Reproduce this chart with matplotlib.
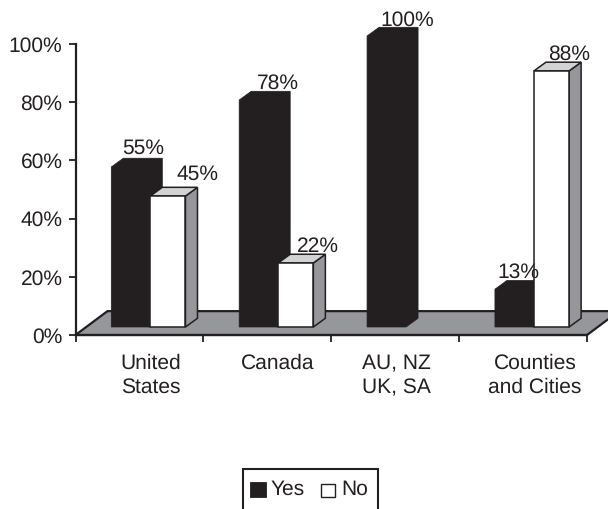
import matplotlib
matplotlib.use("Agg")
import matplotlib.pyplot as plt
from matplotlib.patches import Polygon, Rectangle

plt.rcParams["font.family"] = ["Liberation Sans", "DejaVu Sans"]
plt.rcParams["text.hinting"] = "none"
plt.rcParams["text.hinting_factor"] = 1

categories = ["United\nStates", "Canada", "AU, NZ\nUK, SA", "Counties\nand Cities"]
yes_values = [55, 78, 100, 13]
no_values = [45, 22, None, 88]
yes_labels = ["55%", "78%", "100%", "13%"]
no_labels = ["45%", "22%", None, "88%"]
y_ticks = [0, 20, 40, 60, 80, 100]

# Label anchors relative to each group's left tick and the box top
yes_label_dx = [0.53, 0.586, 0.594, 0.461]
yes_label_dy = [-0.15, -0.78, -1.0, -0.43]
no_label_dx = [0.953, 0.898, 0.0, 0.859]
no_label_dy = [0.95, -0.52, 0.0, -0.58]
category_dx = [0.59, 0.578, 0.508, 0.594]

INK = "#231f20"
GRAY = "#96979b"
LIGHT = "#d1d3d4"
FONT = 15

W, H = 608, 509
fig = plt.figure(figsize=(W / 100, H / 100), dpi=100, facecolor="white")
ax = fig.add_axes([75.5 / W, 1 - 335 / H, 511.5 / W, 291 / H])
ax.set_xlim(0, 4)
ax.set_ylim(0, 100)
ax.patch.set_visible(False)

# Oblique projection offsets, in data units
FLOOR_DX, FLOOR_DY = 0.25, 8.2
BAR_DX, BAR_DY = 0.094, 3.0
BASE = 2.75
YES_LEFT, SPLIT, NO_RIGHT = 0.28, 0.585, 0.86

# Grey floor of the chart
ax.add_patch(Polygon(
    [(0, 0), (FLOOR_DX, FLOOR_DY), (4 + FLOOR_DX, FLOOR_DY), (4, 0)],
    closed=True, facecolor=GRAY, edgecolor=INK, linewidth=1.6,
    clip_on=False, zorder=1))


def solid_box(x0, x1, value):
    """Draw a box filled in one colour as a single outline."""
    y0 = BASE
    y1 = BASE + value
    ax.add_patch(Polygon(
        [(x0, y0), (x1, y0), (x1 + BAR_DX, y0 + BAR_DY), (x1 + BAR_DX, y1 + BAR_DY),
         (x0 + BAR_DX, y1 + BAR_DY), (x0, y1)],
        closed=True, facecolor=INK, edgecolor=INK, linewidth=0.5,
        clip_on=False, zorder=2))


def open_box(x0, x1, value):
    """Draw a white box with a lit top and a shaded side."""
    y0 = BASE
    y1 = BASE + value
    faces = [
        ([(x1, y0), (x1 + BAR_DX, y0 + BAR_DY), (x1 + BAR_DX, y1 + BAR_DY), (x1, y1)], GRAY),
        ([(x0, y1), (x0 + BAR_DX, y1 + BAR_DY), (x1 + BAR_DX, y1 + BAR_DY), (x1, y1)], LIGHT),
        ([(x0, y0), (x1, y0), (x1, y1), (x0, y1)], "white"),
    ]
    for pts, color in faces:
        ax.add_patch(Polygon(pts, closed=True, facecolor=color, edgecolor=INK,
                             linewidth=1.1, joinstyle="miter", clip_on=False, zorder=3))


for i, (yes, no) in enumerate(zip(yes_values, no_values)):
    solid_box(i + YES_LEFT, i + SPLIT, yes)
    if no is not None:
        open_box(i + SPLIT, i + NO_RIGHT, no)

# Value labels above the boxes
for i, (yes, no, ylab, nlab) in enumerate(zip(yes_values, no_values, yes_labels, no_labels)):
    ax.text(i + yes_label_dx[i], BASE + yes + BAR_DY + yes_label_dy[i], ylab,
            ha="center", va="bottom", fontsize=FONT, color=INK, clip_on=False, zorder=5)
    if no is not None:
        ax.text(i + no_label_dx[i], BASE + no + BAR_DY + no_label_dy[i], nlab,
                ha="center", va="bottom", fontsize=FONT, color=INK, clip_on=False, zorder=5)

# Axes
for name in ("top", "right"):
    ax.spines[name].set_visible(False)
for name in ("left", "bottom"):
    ax.spines[name].set_linewidth(1.6)
    ax.spines[name].set_color(INK)
    ax.spines[name].set_zorder(6)
ax.set_yticks(y_ticks)
ax.set_yticklabels([f"{v}%" for v in y_ticks], fontsize=FONT, color=INK)
ax.set_xticks(range(5))
ax.set_xticklabels([])
ax.tick_params(axis="both", length=5, width=1.3, color=INK, pad=4.3)
for i, name in enumerate(categories):
    ax.annotate(name, xy=(i + category_dx[i], 0), xytext=(0, -13.5), textcoords="offset points",
                xycoords=("data", "data"), ha="center", va="top", fontsize=FONT,
                color=INK, linespacing=1.3, annotation_clip=False)

# Key at the foot of the figure; the frame runs off the bottom edge
tf = fig.transFigure


def fx(px):
    return px / W


def fy(py):
    return 1 - py / H


fig.add_artist(Rectangle((fx(243), fy(520)), 135 / W, 51 / H, transform=tf,
                         facecolor="white", edgecolor=INK, linewidth=1.5))
fig.add_artist(Rectangle((fx(249.5), fy(497)), 16 / W, 15 / H, transform=tf,
                         facecolor=INK, edgecolor=INK, linewidth=0.6))
fig.add_artist(Rectangle((fx(321), fy(497)), 14 / W, 13 / H, transform=tf,
                         facecolor="white", edgecolor=INK, linewidth=1.0))
fig.text(fx(271), fy(494.5), "Yes", fontsize=FONT, color=INK, ha="left", va="baseline")
fig.text(fx(341), fy(494.5), "No", fontsize=FONT, color=INK, ha="left", va="baseline")

fig.savefig("out.png", dpi=100)
